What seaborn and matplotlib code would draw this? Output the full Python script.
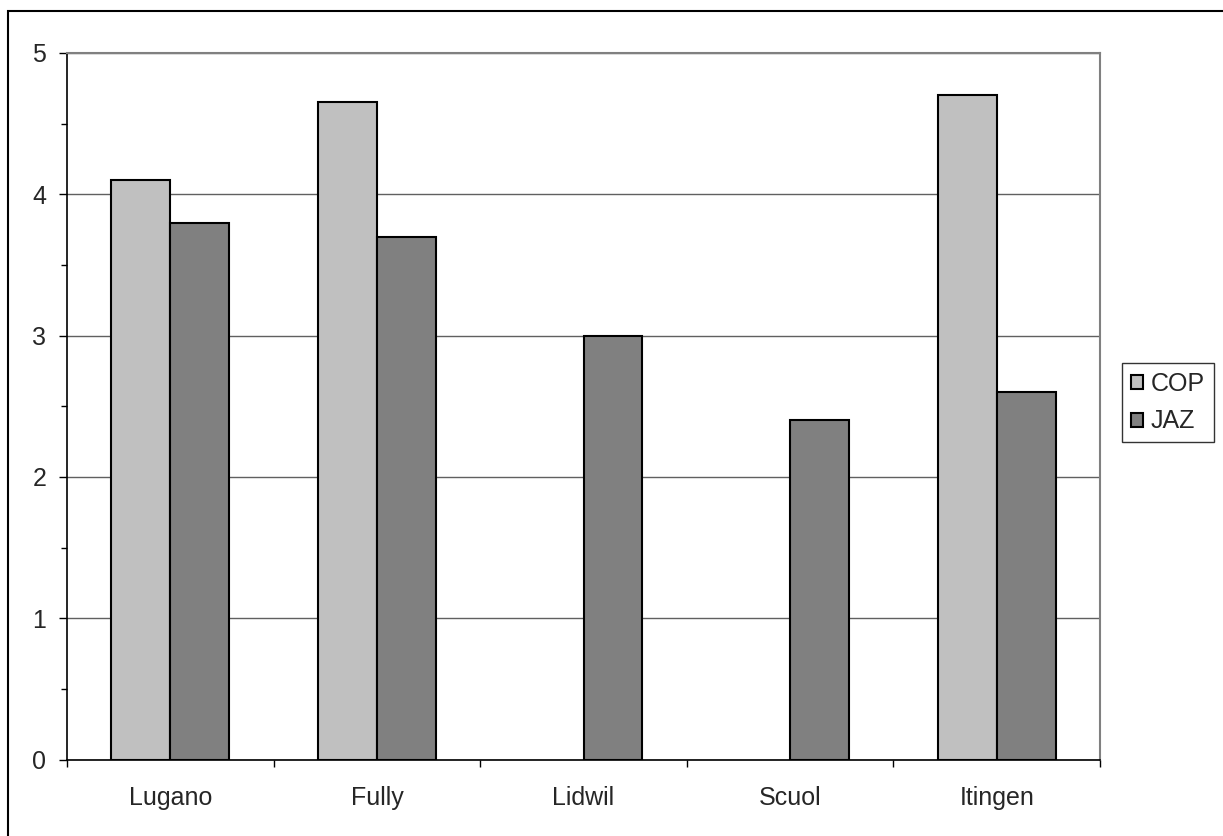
import numpy as np
import pandas as pd
import matplotlib
matplotlib.use("Agg")
import matplotlib.pyplot as plt
from matplotlib.patches import Rectangle
from matplotlib.ticker import MultipleLocator
import seaborn as sns

sns.set_style("white")
plt.rcParams['font.family'] = ['Liberation Sans', 'DejaVu Sans']

# data
places = ["Lugano", "Fully", "Lidwil", "Scuol", "Itingen"]
cop = [4.1, 4.65, np.nan, np.nan, 4.7]
jaz = [3.8, 3.7, 3.0, 2.4, 2.6]
series = ["COP", "JAZ"]
colors = ["#C0C0C0", "#808080"]

df = pd.DataFrame({"place": places, "COP": cop, "JAZ": jaz})
df = df.melt(id_vars="place", var_name="series", value_name="value")

fig = plt.figure(figsize=(12.23, 8.36), dpi=100)
ax = fig.add_axes([67/1223, 1 - 759.5/836, (1100 - 67)/1223, (759.5 - 53)/836])

sns.barplot(data=df, x="place", y="value", hue="series", hue_order=series,
            palette=colors, width=0.57, edgecolor="black", linewidth=1.5,
            saturation=1, errorbar=None, ax=ax)

ax.set_ylim(0, 5)
ax.set_xlim(-0.5, len(places) - 0.5)
ax.set_xlabel("")
ax.set_ylabel("")

# gridlines
ax.yaxis.set_major_locator(MultipleLocator(1))
ax.yaxis.set_minor_locator(MultipleLocator(0.5))
ax.yaxis.grid(True, color="#606060", linewidth=1)
ax.set_axisbelow(True)

fs = 18

# ticks
ax.tick_params(axis="y", which="major", direction="out", length=6, width=1,
               left=True, pad=9, labelsize=fs, color="black")
ax.tick_params(axis="y", which="minor", direction="out", length=4, width=1,
               left=True, color="black")
ax.set_xticks(np.arange(-0.5, len(places)), minor=True)
ax.tick_params(axis="x", which="major", length=0, pad=19, labelsize=fs)
ax.tick_params(axis="x", which="minor", direction="out", length=5, width=1,
               bottom=True, color="black")

for s in ["left", "bottom"]:
    ax.spines[s].set_color("black")
    ax.spines[s].set_linewidth(1.2)
for s in ["top", "right"]:
    ax.spines[s].set_color("#808080")
    ax.spines[s].set_linewidth(1.5)

# legend
handles, labels = ax.get_legend_handles_labels()
ax.legend(handles, labels, loc="upper left",
          bbox_to_anchor=(1122/1223, 1 - 363/836), bbox_transform=fig.transFigure,
          borderaxespad=0, frameon=True, fancybox=False, edgecolor="black",
          fontsize=fs, handlelength=0.5, handleheight=0.5, handletextpad=0.3,
          labelspacing=0.55, borderpad=0.35)
ax.get_legend().get_frame().set_linewidth(1)

# outer chart border
fig.patches.append(Rectangle((8/1223, -0.1), 1.5, 1 - 11/836 + 0.1,
                             transform=fig.transFigure, fill=False,
                             edgecolor="black", linewidth=1.5))

fig.savefig("out.png", dpi=100)
